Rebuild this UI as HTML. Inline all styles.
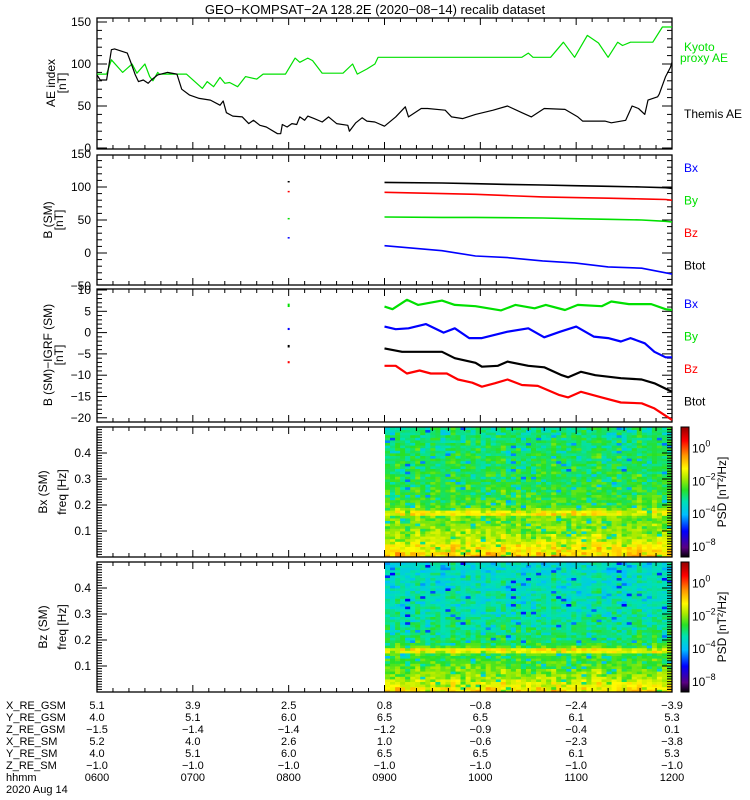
<!DOCTYPE html>
<html><head><meta charset="utf-8">
<style>
body{margin:0;background:#fff;}
svg{display:block;font-family:"Liberation Sans",sans-serif;}
</style></head>
<body>
<svg id="chart" width="750" height="800" viewBox="0 0 750 800">
<text x="375" y="14" text-anchor="middle" font-size="13">GEO−KOMPSAT−2A 128.2E (2020−08−14) recalib dataset</text>
<g id="g"></g>
</svg>
<script>
// ---------- DATA ----------
// time in minutes since 06:00
const kyotoT=[0,6,9,16,22,25,30,33,35,38,39,56,66,69,73,77,80,83,88,93,100,104,115,118,124,127,132,135,141,154,160,163,169,174,176,266,270,273,284,292,299,307,314,320,326,329,334,348,354,360];
const kyotoV=[88,88,105,90,100,89,100,85,80,90,88,88,71,79,73,84,77,78,73,85,82,88,88,88,107,102,107,104,89,89,100,88,94,100,108,108,113,108,108,126,108,134,125,108,126,122,126,126,144,144];
const themisT=[0,2,6,9,11,19,21,24,26,29,32,34,38,44,50,53,58,64,71,77,79,81,85,91,95,98,102,106,113,115,116,119,122,125,127,130,132,136,141,145,150,157,158,162,166,169,174,180,187,193,195,203,207,218,222,229,237,248,257,266,272,280,293,301,304,318,322,331,335,339,343,345,351,352,356,359,360];
const themisV=[87,81,81,117,118,113,103,87,79,81,77,81,87,90,88,70,63,59,57,51,56,42,38,37,29,33,27,25,17,17,28,25,29,28,37,33,38,35,31,37,29,27,20,30,36,32,31,26,37,49,37,47,47,45,37,35,40,45,50,42,37,47,46,37,32,32,30,33,50,47,40,57,61,64,85,96,102];
// Panel 2: B (SM)
const bT=[180,216,237,257,279,299,320,341,356,360];
const bBlack=[107,106,105,104,103,102,101,100,99,98];
const bRed=[92,90,89,87,85,84,83,82,81,80];
const bGreen=[54.5,54,54,53.5,53,52,51,50,48,47];
const bBlue=[11,3.5,-4.5,-7,-12,-15,-21,-23,-30,-32];
const b0800=[108,93,52,23];
// Panel 3: B (SM) - IGRF
const gT=[180,185,194,201,216,224,237,253,262,274,281,293,301,316,322,333,347,356,360];
const gV=[6.1,5.5,7.7,6.5,7.5,6.5,6.2,5.2,6.5,5.7,6.5,5.3,6.5,6.2,7.3,6.7,6.7,5.5,5.3];
const uT=[180,187,195,206,217,224,233,241,257,270,280,290,300,311,320,328,334,343,349,356,360];
const uV=[1.4,0.8,1.0,2.0,0.0,1.0,-1.3,-1.3,0.2,1.0,-1.1,0.2,1.4,-0.95,-1.3,-2.1,-1.3,-2.5,-4.5,-5.8,-5.8];
const kT=[180,191,216,224,237,241,251,257,270,280,291,295,303,312,328,341,349,360];
const kV=[-3.7,-4.5,-4.5,-6.0,-7.1,-8.0,-7.8,-6.8,-7.8,-8.15,-10.0,-10.5,-9.2,-10.0,-10.7,-11.0,-11.9,-13.9];
const rT=[180,187,194,202,209,219,226,235,241,249,257,266,276,289,295,303,316,328,341,349,360];
const rV=[-7.8,-7.8,-9.6,-8.9,-9.6,-9.6,-11.0,-11.75,-12.7,-11.9,-11.0,-12.3,-12.5,-14.6,-15.2,-13.9,-15.2,-16.4,-16.6,-17.8,-20.5];
// Spectrograms: log10 PSD per frequency bin (0..0.5 Hz, 50 bins, low->high)
const bxRows=[-0.9,-1.0,-1.1,-1.2,-1.3,-1.5,-1.7,-1.8,-1.9,-2.0,-2.0,-2.1,-2.1,-2.2,-2.2,-2.2,-1.3,-1.4,-2.1,-2.4,-2.5,-2.5,-2.5,-2.6,-2.6,-2.6,-2.6,-2.7,-2.7,-2.7,-2.7,-2.7,-2.7,-2.8,-2.8,-2.8,-2.8,-2.8,-2.8,-2.8,-2.9,-2.8,-2.9,-2.9,-2.9,-3.0,-2.9,-3.0,-3.0,-3.0];
const bzRows=[-1.1,-1.2,-1.4,-1.5,-1.7,-1.9,-2.0,-2.1,-2.2,-2.3,-2.4,-2.5,-2.5,-2.6,-2.5,-1.5,-1.3,-2.4,-2.7,-2.8,-2.9,-2.9,-3.0,-3.0,-3.0,-3.1,-3.1,-3.1,-3.1,-3.2,-3.2,-3.2,-3.2,-3.3,-3.3,-3.3,-3.3,-3.3,-3.3,-3.4,-3.4,-3.4,-3.4,-3.4,-3.4,-3.4,-3.5,-3.5,-3.5,-3.5];
const colOffset=[0.1,-0.1,0.2,0.0,-0.2,0.1,0.3,0.0,-0.1,0.2,0.1,-0.2,0.0,0.3,0.1,-0.1,0.2,0.0,0.1,-0.2,0.2,0.0,0.1,0.3,-0.1,0.0,0.2,-0.2,0.1,0.0,0.2,0.1,-0.1,0.3,0.0,0.1,-0.2,0.2,0.0,0.1,-0.1,0.2,0.3,0.0,-0.1,0.1,0.2,-0.2,0.0,0.1,0.3,0.0,-0.1,0.2,0.1,0.0,0.2];
const jitter=[0.2,-0.3,0.1,0.4,-0.1,-0.5,0.2,0.0,0.3,-0.2,0.3,-0.1,-0.8,0.2,0.1,-0.4,0.5,-0.2,0.1,-1.5,0.3,-0.2,0.0,0.1,-0.3,0.2,-0.1,0.4,-0.6,0.0,0.1];
const obsLabels=["X_RE_GSM","Y_RE_GSM","Z_RE_GSM","X_RE_SM","Y_RE_SM","Z_RE_SM","hhmm"];
const obsValues=[["5.1","3.9","2.5","0.8","−0.8","−2.4","−3.9"],["4.0","5.1","6.0","6.5","6.5","6.1","5.3"],["−1.5","−1.4","−1.4","−1.2","−0.9","−0.4","0.1"],["5.2","4.0","2.6","1.0","−0.6","−2.3","−3.8"],["4.0","5.1","6.0","6.5","6.5","6.1","5.3"],["−1.0","−1.0","−1.0","−1.0","−1.0","−1.0","−1.0"],["0600","0700","0800","0900","1000","1100","1200"]];

// ---------- DRAW ----------
const NS="http://www.w3.org/2000/svg";
const G=document.getElementById('g');
function el(t,a,p){const e=document.createElementNS(NS,t);for(const k in a)e.setAttribute(k,a[k]);(p||G).appendChild(e);return e;}
const X0=97,X1=672;
const xs=m=>X0+m*(X1-X0)/360;
function lin(d0,d1,r0,r1){return v=>r0+(v-d0)*(r1-r0)/(d1-d0);}
const panels=[
 {top:18,bot:149,y:lin(0,150,148,22),min:0,max:155,maj:50,mnr:10,lab:[0,50,100,150],name:"ae"},
 {top:155,bot:285,y:lin(0,100,253,187),min:-50,max:150,maj:50,mnr:10,lab:[-50,0,50,100,150],name:"bsm"},
 {top:289,bot:422,y:lin(0,10,332.6,290),min:-21,max:10,maj:5,mnr:1,lab:[-20,-15,-10,-5,0,5,10],name:"bdiff"},
 {top:427,bot:557,y:lin(0,0.5,557,427),min:0,max:0.5,maj:0.1,mnr:0.01,lab:[0.1,0.2,0.3,0.4],name:"bx-spec"},
 {top:562,bot:692,y:lin(0,0.5,692,562),min:0,max:0.5,maj:0.1,mnr:0.01,lab:[0.1,0.2,0.3,0.4],name:"bz-spec"}
];
function line(T,V,p,col,w,name){
  let d="";T.forEach((t,i)=>{d+=(i?"L":"M")+xs(t).toFixed(1)+","+p.y(V[i]).toFixed(1);});
  const e=el('path',{d:d,fill:"none",stroke:col,"stroke-width":w,"stroke-linejoin":"round"});
  
  
}
function txt(x,y,s,opts){const e=el('text',Object.assign({x:x,y:y,"font-size":12},opts||{}));e.textContent=s;return e;}
function cmap(v){
  const st=[[-6.6,0,0,0],[-6,90,0,130],[-5,0,0,255],[-4,0,190,255],[-3.2,0,225,180],[-2.5,40,225,40],[-1.8,170,235,0],[-1.2,255,250,0],[-0.4,255,150,0],[0.5,255,0,0],[1.3,150,0,0]];
  if(v<=st[0][0])return"rgb(0,0,0)";
  for(let i=1;i<st.length;i++){if(v<=st[i][0]){const a=st[i-1],b=st[i],f=(v-a[0])/(b[0]-a[0]);return`rgb(${Math.round(a[1]+f*(b[1]-a[1]))},${Math.round(a[2]+f*(b[2]-a[2]))},${Math.round(a[3]+f*(b[3]-a[3]))})`;}}
  return"rgb(150,0,0)";
}
function spec(p,rows,name){
  const nC=colOffset.length,cw=(X1-385)/nC;
  rows.forEach((rv,r)=>{colOffset.forEach((co,c)=>{
    const v=rv+co+jitter[(r*11+c*17+(r*c)%7)%jitter.length];
    const y1=p.y((r+1)*0.01),y0=p.y(r*0.01);
    const e=el('rect',{x:(385+c*cw).toFixed(1),y:y1.toFixed(1),width:(cw+0.4).toFixed(1),height:(y0-y1+0.4).toFixed(1),fill:cmap(v)});
    
    
  });});
}
spec(panels[3],bxRows,"bx-spectrogram");
spec(panels[4],bzRows,"bz-spectrogram");

panels.forEach(p=>{
  const f=el('rect',{x:X0,y:p.top,width:X1-X0,height:p.bot-p.top,fill:"none",stroke:"#000","stroke-width":1.3});
  
  
  for(let m=0;m<=360;m+=10){const L=(m%60==0)?7:4;const x=xs(m);
    el('line',{x1:x,x2:x,y1:p.top,y2:p.top+L,stroke:"#000"});el('line',{x1:x,x2:x,y1:p.bot,y2:p.bot-L,stroke:"#000"});}
  const n=Math.round((p.max-p.min)/p.mnr);
  for(let i=0;i<=n;i++){const v=p.min+i*p.mnr;const y=p.y(v);if(y<p.top-0.5||y>p.bot+0.5)continue;
    const isMaj=Math.abs(v/p.maj-Math.round(v/p.maj))<1e-6;const L=isMaj?10:5;
    el('line',{x1:X0,x2:X0+L,y1:y,y2:y,stroke:"#000"});el('line',{x1:X1,x2:X1-L,y1:y,y2:y,stroke:"#000"});}
  p.lab.forEach(v=>{const t=txt(91,p.y(v)+4,String(v).replace('-','−'),{"text-anchor":"end","font-size":12});
    });
});
line(kyotoT,kyotoV,panels[0],"#00e000",1.2,"kyoto-ae-line");
line(themisT,themisV,panels[0],"#000",1.2,"themis-ae-line");
line(bT,bBlack,panels[1],"#000",1.6,"bsm-btot-line");
line(bT,bRed,panels[1],"#f00",1.6,"bsm-bz-line");
line(bT,bGreen,panels[1],"#00e000",1.6,"bsm-by-line");
line(bT,bBlue,panels[1],"#0000ff",1.6,"bsm-bx-line");
["#000","#f00","#00e000","#0000ff"].forEach((c,i)=>{const y=panels[1].y(b0800[i]);
  const e=el('line',{x1:xs(120)-1,x2:xs(120)+1,y1:y,y2:y,stroke:c,"stroke-width":1.5});
  });
line(gT,gV,panels[2],"#00e000",2.2,"bdiff-by-line");
line(uT,uV,panels[2],"#0000ff",2.2,"bdiff-bx-line");
line(kT,kV,panels[2],"#000",2.2,"bdiff-btot-line");
line(rT,rV,panels[2],"#f00",2.2,"bdiff-bz-line");
[[6.8,6,"#00e000"],[1.1,0.6,"#0000ff"],[-2.9,-3.5,"#000"],[-6.7,-7.2,"#f00"]].forEach(a=>{
  const e=el('line',{x1:xs(120),x2:xs(120),y1:panels[2].y(a[0]),y2:panels[2].y(a[1]),stroke:a[2],"stroke-width":2});
  });

function leg(x,y,s,c,name){const t=txt(x,y,s,{fill:c});}
leg(684,51,"Kyoto","#00e000","legend-kyoto");
leg(680,62,"proxy AE","#00e000","legend-proxy-ae");
leg(684,118,"Themis AE","#000","legend-themis-ae");
[["Bx","#0000ff"],["By","#00e000"],["Bz","#f00"],["Btot","#000"]].forEach((a,i)=>{
  leg(684,172+i*32.5,a[0],a[1],"legend-bsm-"+a[0].toLowerCase());
  leg(684,308+i*32.5,a[0],a[1],"legend-bdiff-"+a[0].toLowerCase());
});
function ytitle(x,y,s,name){const t=txt(x,y,s,{"text-anchor":"middle",transform:`rotate(-90 ${x} ${y})`});}
ytitle(55,83,"AE index","ae-y-title");ytitle(66,83,"[nT]","ae-y-unit");
ytitle(52,220,"B (SM)","bsm-y-title");ytitle(63,220,"[nT]","bsm-y-unit");
ytitle(52,355,"B (SM)−IGRF (SM)","bdiff-y-title");ytitle(63,355,"[nT]","bdiff-y-unit");
ytitle(47,492,"Bx (SM)","bx-spec-y-title");ytitle(66,492,"freq [Hz]","bx-spec-y-unit");
ytitle(47,627,"Bz (SM)","bz-spec-y-title");ytitle(66,627,"freq [Hz]","bz-spec-y-unit");
[panels[3],panels[4]].forEach((p,k)=>{
  const cb=lin(1.3,-6.6,p.top,p.bot);
  for(let y=p.top;y<p.bot;y++){const v=-6.6+(p.bot-y)*(7.9)/(p.bot-p.top);el('rect',{x:681,y:y,width:8,height:1.2,fill:cmap(v)});}
  const f=el('rect',{x:681,y:p.top,width:8,height:p.bot-p.top,fill:"none",stroke:"#000"});
  
  [["0",0],["−2",-2],["−4",-4],["−8",-6]].forEach(a=>{const y=cb(a[1])+4;
    const t=txt(692,y,"10",{"font-size":12});const s=el('tspan',{dy:-6,"font-size":9});s.textContent=a[0];t.appendChild(s);
    });
  const cy=(p.top+p.bot)/2;const t=txt(726,cy,"PSD [nT²/Hz]",{"text-anchor":"middle",transform:`rotate(-90 726 ${cy})`});
  
});
obsLabels.forEach((s,i)=>{const y=709+i*12;
  const t=txt(6,y,s,{"font-size":11});
  obsValues[i].forEach((v,j)=>{const u=txt(xs(j*60),y,v,{"font-size":11,"text-anchor":"middle"});
    });
});
const dt=txt(6,793,"2020 Aug 14",{"font-size":11});
</script>
</body></html>
